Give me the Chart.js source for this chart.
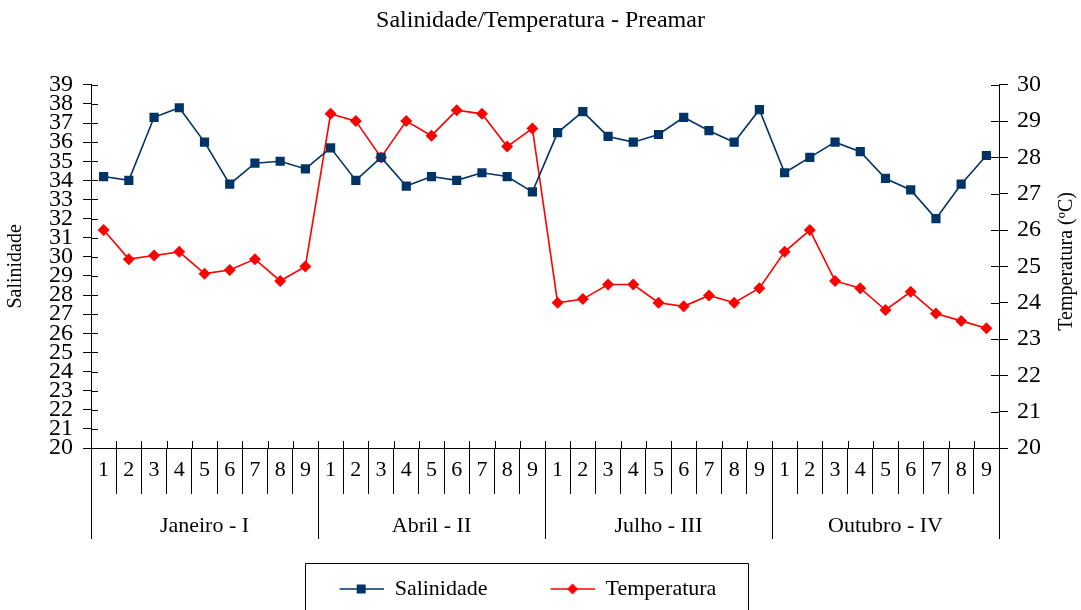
<!DOCTYPE html>
<html>
<head>
<meta charset="utf-8">
<script src="https://cdn.jsdelivr.net/npm/chart.js@4"></script>
<style>
  html, body { margin: 0; padding: 0; background: #fff; }
  #wrap { width: 1081px; height: 610px; }
</style>
</head>
<body>
<div id="wrap"><canvas id="myChart" width="1081" height="610"></canvas></div>
<script>
const pontos = ['1', '2', '3', '4', '5', '6', '7', '8', '9'];
const meses = ['Janeiro - I', 'Abril - II', 'Julho - III', 'Outubro - IV'];

const salinidade = [
  34.2, 34.0, 37.3, 37.8, 36.0, 33.8, 34.9, 35.0, 34.6,
  35.7, 34.0, 35.2, 33.7, 34.2, 34.0, 34.4, 34.2, 33.4,
  36.5, 37.6, 36.3, 36.0, 36.4, 37.3, 36.6, 36.0, 37.7,
  34.4, 35.2, 36.0, 35.5, 34.1, 33.5, 32.0, 33.8, 35.3
];
const temperatura = [
  26.0, 25.2, 25.3, 25.4, 24.8, 24.9, 25.2, 24.6, 25.0,
  29.2, 29.0, 28.0, 29.0, 28.6, 29.3, 29.2, 28.3, 28.8,
  24.0, 24.1, 24.5, 24.5, 24.0, 23.9, 24.2, 24.0, 24.4,
  25.4, 26.0, 24.6, 24.4, 23.8, 24.3, 23.7, 23.5, 23.3
];

const salMin = 20, salMax = 39;
const tempMin = 20, tempMax = 30;

const rotulos = [];
meses.forEach(() => pontos.forEach((p) => rotulos.push(p)));

const AZUL = '#003366';
const VERMELHO = '#ff0000';
const SERIF = "'Liberation Serif', 'Times New Roman', serif";

Chart.defaults.font.family = SERIF;
Chart.defaults.color = '#000';

// icone da legenda: linha com marcador (espaco vazio a esquerda)
function iconeLegenda(cor, tipo) {
  const c = document.createElement('canvas');
  c.width = 97;
  c.height = 14;
  const g = c.getContext('2d');
  g.strokeStyle = cor;
  g.lineWidth = 1.5;
  g.beginPath();
  g.moveTo(53, 7);
  g.lineTo(97, 7);
  g.stroke();
  g.fillStyle = cor;
  g.beginPath();
  if (tipo === 'rect') {
    g.rect(70, 2.5, 9, 9);
  } else {
    g.moveTo(75, 1.5);
    g.lineTo(80.5, 7);
    g.lineTo(75, 12.5);
    g.lineTo(69.5, 7);
    g.closePath();
  }
  g.fill();
  return c;
}
const icones = [iconeLegenda(AZUL, 'rect'), iconeLegenda(VERMELHO, 'diamond')];

const LEG_SHIFT = 39;

const extras = {
  id: 'extras',
  afterLayout(chart) {
    const lg = chart.legend;
    lg.left -= LEG_SHIFT;
    lg.right -= LEG_SHIFT;
  },
  afterDraw(chart) {
    const ctx = chart.ctx;
    const area = chart.chartArea;
    ctx.save();
    ctx.strokeStyle = '#000';
    ctx.lineWidth = 1;
    ctx.beginPath();
    // marcas para dentro da area do grafico
    const y = chart.scales.y;
    y.ticks.forEach((t) => {
      const py = Math.round(y.getPixelForValue(t.value)) + 0.5;
      ctx.moveTo(area.left, py);
      ctx.lineTo(area.left + 7, py);
    });
    const y1 = chart.scales.y1;
    y1.ticks.forEach((t) => {
      const py = Math.round(y1.getPixelForValue(t.value)) + 0.5;
      ctx.moveTo(area.right - 8, py);
      ctx.lineTo(area.right, py);
    });
    const x = chart.scales.x;
    for (let i = 0; i <= rotulos.length; i++) {
      const px = Math.round(x.getPixelForValue(i - 0.5)) + 0.5;
      ctx.moveTo(px, area.bottom - 7);
      ctx.lineTo(px, area.bottom);
    }
    ctx.stroke();

    // titulo do eixo direito, lido de baixo para cima
    ctx.save();
    ctx.translate(y1.right - 14, (area.top + area.bottom) / 2 - 5);
    ctx.rotate(-Math.PI / 2);
    ctx.fillStyle = '#000';
    ctx.font = '20px ' + SERIF;
    ctx.textAlign = 'center';
    ctx.textBaseline = 'middle';
    ctx.fillText('Temperatura (ºC)', 0, 0);
    ctx.restore();

    // moldura da legenda
    const lg = chart.legend;
    const P = lg.options.labels.padding;
    const lineW = lg.lineWidths[0];
    const start = (lg.left + P + lg.right - lineW) / 2;
    const bx = start + 53 - 35;
    const bw = (start + lineW - P + 31) - bx;
    const by = lg.top - 5;
    ctx.beginPath();
    ctx.rect(Math.round(bx) + 0.5, Math.round(by) + 0.5, Math.round(bw), 80);
    ctx.stroke();
    ctx.restore();
  }
};

const ctx = document.getElementById('myChart');

new Chart(ctx, {
  type: 'line',
  data: {
    labels: rotulos,
    datasets: [
      {
        label: 'Salinidade',
        data: salinidade,
        yAxisID: 'y',
        xAxisID: 'x',
        borderColor: AZUL,
        backgroundColor: AZUL,
        borderWidth: 1.6,
        pointStyle: 'rect',
        pointRadius: 6.5,
        pointBorderWidth: 0,
        tension: 0
      },
      {
        label: 'Temperatura',
        data: temperatura,
        yAxisID: 'y1',
        xAxisID: 'x',
        borderColor: VERMELHO,
        backgroundColor: VERMELHO,
        borderWidth: 1.6,
        pointStyle: 'rectRot',
        pointRadius: 6,
        pointBorderWidth: 0,
        tension: 0
      }
    ]
  },
  options: {
    responsive: false,
    animation: false,
    layout: { padding: 0 },
    plugins: {
      title: {
        display: true,
        text: 'Salinidade/Temperatura - Preamar',
        color: '#000',
        font: { size: 24, weight: 'normal', family: SERIF },
        padding: { top: 6, bottom: 50 }
      },
      legend: {
        display: true,
        position: 'bottom',
        labels: {
          color: '#000',
          font: { size: 22, family: SERIF },
          usePointStyle: true,
          pointStyleWidth: 97,
          padding: 10,
          generateLabels(chart) {
            const items = Chart.defaults.plugins.legend.labels.generateLabels(chart);
            items.forEach((it, i) => { it.pointStyle = icones[i]; });
            return items;
          }
        }
      },
      tooltip: { enabled: false }
    },
    scales: {
      x: {
        type: 'category',
        position: 'bottom',
        labels: rotulos,
        offset: true,
        weight: 0,
        border: { color: '#000', width: 1 },
        grid: { drawOnChartArea: false, tickLength: 46, color: '#000', offset: true },
        ticks: { autoSkip: false, maxRotation: 0, font: { size: 22 }, color: '#000', padding: -37 },
        afterFit(s) { s.height = 46; }
      },
      x2: {
        type: 'category',
        position: 'bottom',
        labels: meses,
        offset: true,
        weight: 1,
        border: { display: false },
        grid: { drawOnChartArea: false, tickLength: 45, color: '#000', offset: true },
        ticks: { autoSkip: false, maxRotation: 0, font: { size: 22 }, color: '#000', padding: -26 },
        afterFit(s) { s.height = 74; }
      },
      y: {
        position: 'left',
        min: salMin,
        max: salMax,
        border: { color: '#000', width: 1 },
        grid: { drawOnChartArea: false, tickLength: 8, color: '#000' },
        ticks: { stepSize: 1, autoSkip: false, font: { size: 24 }, color: '#000', padding: 10 },
        title: { display: true, text: 'Salinidade', color: '#000', font: { size: 20 }, padding: { top: 4, bottom: 0 } },
        afterFit(s) { s.width = 91; }
      },
      y1: {
        position: 'right',
        min: tempMin,
        max: tempMax,
        border: { color: '#000', width: 1 },
        grid: { drawOnChartArea: false, tickLength: 9, color: '#000' },
        ticks: { stepSize: 1, autoSkip: false, font: { size: 24 }, color: '#000', padding: 9 },
        title: { display: false },
        afterFit(s) { s.width = 82; }
      }
    }
  },
  plugins: [extras]
});
</script>
</body>
</html>
